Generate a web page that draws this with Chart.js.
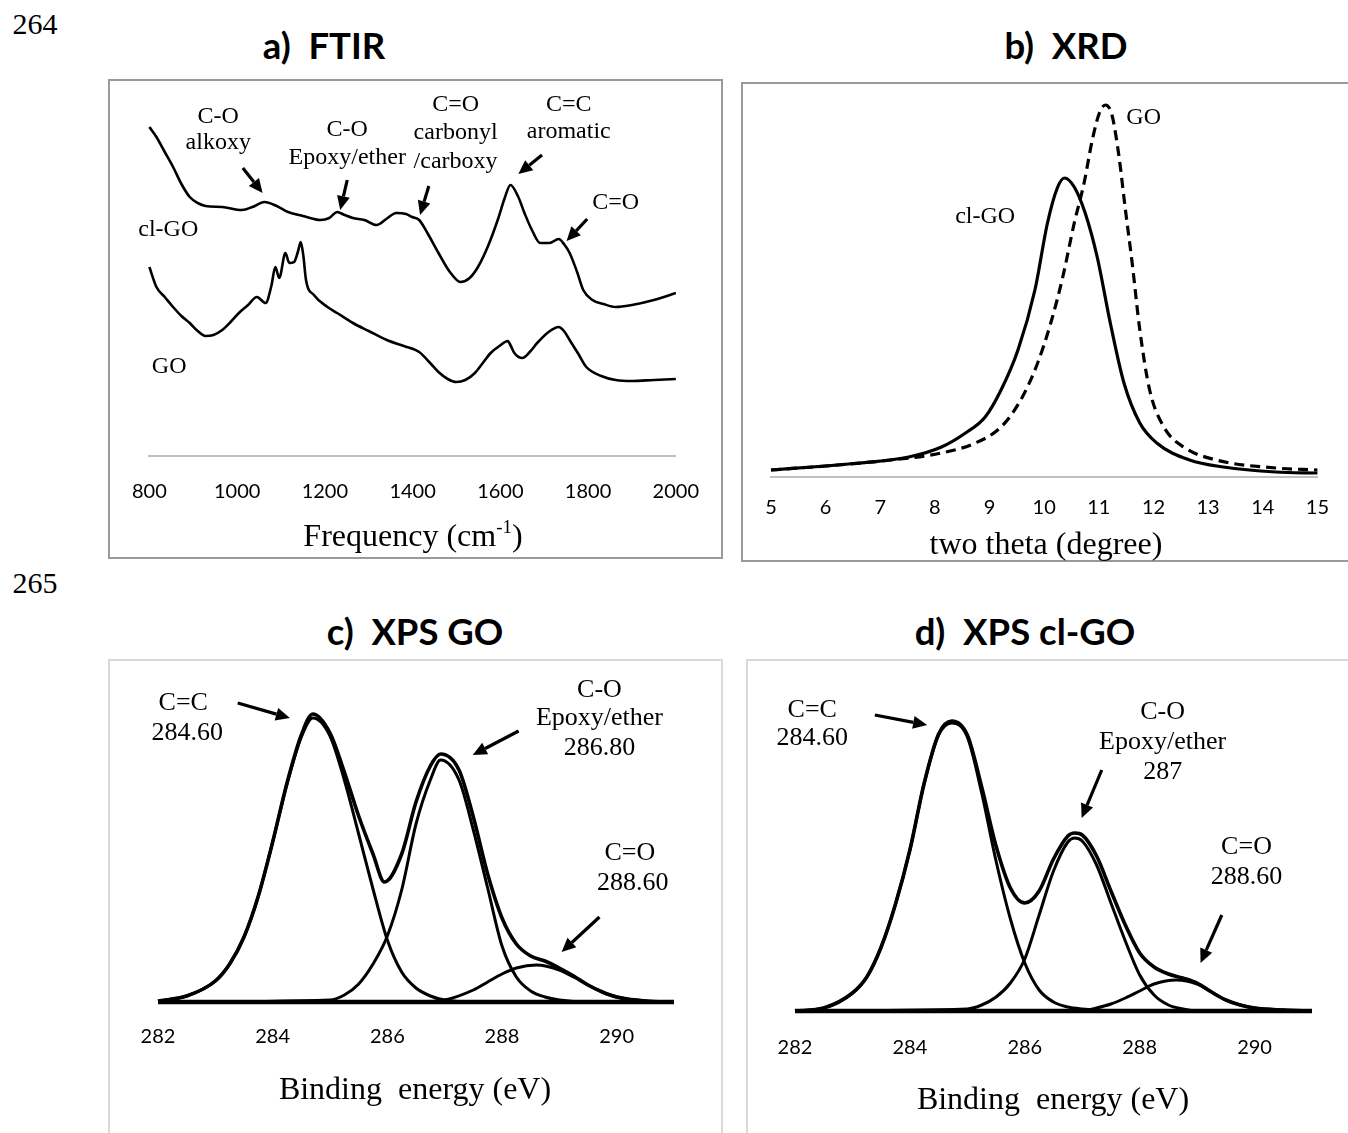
<!DOCTYPE html>
<html>
<head>
<meta charset="utf-8">
<title>FTIR, XRD, XPS</title>
<script src="https://cdn.jsdelivr.net/npm/chart.js@4.4.1/dist/chart.umd.min.js"></script>
<style>
	body { margin: 0; background: #fff; }
	#page { position: relative; width: 1348px; height: 1133px; overflow: hidden; background: #fff; }
	.box { position: absolute; box-sizing: border-box; }
	.box.dark { border: 2px solid #9a9a9a; }
	.box.light { border: 2px solid #d9d9d9; }
	canvas { position: absolute; }
	.t { position: absolute; transform: translate(-50%, -50%); white-space: nowrap; color: #000; line-height: 1; }
	.num { font: 30px "Liberation Serif", serif; }
	.head { font: bold 36.5px Lato, sans-serif; }
	.axt { font: 32px "Liberation Serif", serif; }
	.axt sup { font-size: 19px; vertical-align: 13px; }
</style>
</head>
<body>
<div id="page">
	<div class="t num" style="left:35px; top:24px">264</div>
	<div class="t num" style="left:35px; top:583px">265</div>

	<div class="t head" style="left:324px; top:45px">a)&nbsp; FTIR</div>
	<div class="t head" style="left:1066px; top:45px">b)&nbsp; XRD</div>
	<div class="t head" style="left:415px; top:631px">c)&nbsp; XPS GO</div>
	<div class="t head" style="left:1025px; top:631px">d)&nbsp; XPS cl-GO</div>

	<div class="box dark" style="left:108px; top:79px; width:615px; height:480px"></div>
	<div class="box dark" style="left:741px; top:82px; width:640px; height:480px"></div>
	<div class="box light" style="left:108px; top:659px; width:615px; height:520px"></div>
	<div class="box light" style="left:746px; top:659px; width:640px; height:520px"></div>

	<canvas id="cvFtir" width="615" height="480" style="left:108px; top:79px"></canvas>
	<canvas id="cvXrd" width="607" height="480" style="left:741px; top:82px"></canvas>
	<canvas id="cvXpsGo" width="615" height="474" style="left:108px; top:659px"></canvas>
	<canvas id="cvXpsClGo" width="602" height="474" style="left:746px; top:659px"></canvas>

	<div class="t axt" style="left:413px; top:535px">Frequency (cm<sup>-1</sup>)</div>
	<div class="t axt" style="left:1046px; top:543px">two theta (degree)</div>
	<div class="t axt" style="left:415px; top:1088px">Binding&nbsp; energy (eV)</div>
	<div class="t axt" style="left:1053px; top:1098px">Binding&nbsp; energy (eV)</div>
</div>

<script>
// a) FTIR, frequency in cm-1, transmittance in arbitrary units
const ftirFreqClGO = [800, 816, 835, 854, 873, 892, 910, 928, 966, 1011, 1035, 1062, 1090, 1116, 1150, 1190, 1210, 1228, 1245, 1264, 1290, 1318, 1340, 1363, 1385, 1399, 1415, 1435, 1459, 1485, 1509, 1530, 1549, 1572, 1594, 1610, 1623, 1640, 1655, 1672, 1691, 1712, 1733, 1745, 1758, 1775, 1789, 1810, 1835, 1863, 1900, 1950, 2000];
const ftirClGO = [3.29, 3.19, 3.04, 2.89, 2.72, 2.59, 2.53, 2.50, 2.49, 2.46, 2.49, 2.54, 2.50, 2.44, 2.40, 2.36, 2.38, 2.44, 2.41, 2.38, 2.36, 2.31, 2.37, 2.43, 2.42, 2.39, 2.36, 2.22, 2.03, 1.84, 1.74, 1.78, 1.89, 2.10, 2.36, 2.58, 2.71, 2.60, 2.43, 2.26, 2.13, 2.13, 2.17, 2.12, 2.03, 1.84, 1.66, 1.56, 1.52, 1.49, 1.51, 1.56, 1.63];
const ftirFreqGO = [800, 816, 835, 854, 873, 892, 910, 928, 946, 966, 985, 1004, 1025, 1045, 1065, 1078, 1087, 1096, 1110, 1119, 1130, 1139, 1145, 1151, 1157, 1175, 1206, 1228, 1264, 1300, 1341, 1380, 1415, 1440, 1459, 1480, 1500, 1520, 1542, 1560, 1578, 1598, 1617, 1624, 1632, 1650, 1667, 1684, 1710, 1733, 1745, 1758, 1778, 1796, 1830, 1863, 1900, 1950, 2000];
const ftirGO = [1.89, 1.69, 1.59, 1.49, 1.40, 1.33, 1.25, 1.20, 1.21, 1.26, 1.34, 1.43, 1.51, 1.59, 1.53, 1.70, 1.89, 1.78, 2.03, 1.93, 1.94, 2.05, 2.14, 2.00, 1.76, 1.61, 1.49, 1.43, 1.33, 1.25, 1.16, 1.10, 1.04, 0.93, 0.84, 0.77, 0.74, 0.76, 0.83, 0.93, 1.03, 1.10, 1.15, 1.10, 1.03, 0.98, 1.04, 1.13, 1.24, 1.29, 1.25, 1.16, 1.02, 0.89, 0.80, 0.76, 0.75, 0.76, 0.77];

// b) XRD, two theta in degrees, intensity in counts
const xrdThetaClGO = [5, 6, 6.62, 7.52, 8.12, 8.56, 8.92, 9.21, 9.52, 9.83, 10.06, 10.24, 10.37, 10.55, 10.75, 10.97, 11.21, 11.46, 11.75, 12.06, 12.66, 13.28, 14.24, 15];
const xrdClGO = [70, 110, 140, 200, 300, 440, 600, 870, 1270, 1870, 2540, 2890, 2990, 2900, 2640, 2200, 1540, 940, 540, 340, 170, 100, 50, 40];
const xrdThetaGO = [5, 6, 7.2, 8.12, 8.74, 9.21, 9.57, 9.88, 10.12, 10.34, 10.55, 10.73, 10.88, 11.01, 11.12, 11.24, 11.37, 11.48, 11.61, 11.75, 11.93, 12.19, 12.55, 13.15, 14.24, 15];
const xrdGO = [70, 110, 170, 240, 340, 500, 770, 1140, 1540, 2000, 2540, 2940, 3370, 3640, 3720, 3620, 3200, 2700, 2140, 1470, 870, 500, 300, 170, 90, 70];

// c) XPS GO, binding energy in eV, intensity in arbitrary units
const goEnergyCC = [282, 282.5, 283, 283.25, 283.5, 283.75, 284, 284.25, 284.5, 284.7, 285, 285.25, 285.5, 285.75, 286, 286.25, 286.5, 286.75, 287, 287.5, 291];
const goCC = [1, 6, 21, 38, 65, 106, 160, 218, 265, 284, 266, 222, 168, 113, 62, 30, 14, 6, 2, 0, 0];
const goEnergyCO = [282, 285, 285.25, 285.5, 285.75, 286, 286.25, 286.5, 286.75, 286.93, 287.25, 287.5, 287.75, 288, 288.25, 288.5, 288.75, 289, 289.5, 291];
const goCO = [0, 2, 7, 18, 38, 66, 112, 178, 222, 242, 222, 172, 114, 56, 25, 11, 5, 2, 0, 0];
const goEnergyCdO = [282, 286.5, 287, 287.5, 287.75, 288, 288.25, 288.6, 289, 289.25, 289.5, 289.75, 290, 290.5, 291];
const goCdO = [0, 0, 2, 12, 20, 28, 34, 37, 32, 25, 17, 10, 5, 1, 0];
const goEnergyEnv = [282, 282.5, 283, 283.25, 283.5, 283.75, 284, 284.25, 284.5, 284.7, 285, 285.25, 285.5, 285.75, 285.95, 286.25, 286.5, 286.75, 286.93, 287.25, 287.5, 287.75, 288, 288.25, 288.5, 288.75, 289, 289.25, 289.5, 289.75, 290, 290.5, 291];
const goEnv = [1, 6, 21, 38, 65, 106, 160, 219, 267, 288, 269, 230, 186, 148, 120, 148, 200, 236, 248, 232, 185, 128, 84, 58, 46, 41, 34, 26, 17, 10, 5, 1, 0];

// d) XPS cl-GO
const clEnergyCC = [282, 282.5, 283, 283.25, 283.5, 283.75, 284, 284.25, 284.5, 284.73, 285, 285.25, 285.5, 285.75, 286, 286.25, 286.5, 286.75, 287, 287.5, 291];
const clCC = [0, 3, 18, 34, 64, 107, 161, 228, 276, 288, 274, 218, 150, 92, 48, 21, 9, 4, 2, 0, 0];
const clEnergyCO = [282, 285, 285.25, 285.5, 285.75, 286, 286.25, 286.5, 286.75, 286.87, 287, 287.25, 287.5, 287.75, 288, 288.25, 288.5, 288.75, 289, 291];
const clCO = [0, 2, 6, 14, 28, 52, 96, 140, 169, 173, 170, 146, 108, 70, 36, 16, 6, 2, 0, 0];
const clEnergyCdO = [282, 287, 287.25, 287.5, 287.75, 288, 288.25, 288.64, 289, 289.25, 289.5, 289.75, 290, 290.5, 291];
const clCdO = [0, 0, 3, 7, 13, 20, 27, 31, 27, 19, 11, 6, 3, 1, 0];
const clEnergyEnv = [282, 282.5, 283, 283.25, 283.5, 283.75, 284, 284.25, 284.5, 284.73, 285, 285.25, 285.5, 285.75, 286, 286.25, 286.5, 286.75, 286.87, 287, 287.25, 287.5, 287.75, 288, 288.25, 288.5, 288.75, 289, 289.25, 289.5, 289.75, 290, 290.5, 291];
const clEnv = [0, 3, 18, 34, 64, 107, 161, 228, 277, 290, 276, 224, 165, 123, 108, 120, 152, 175, 178, 176, 155, 120, 86, 58, 44, 37, 33, 28, 19, 11, 6, 3, 1, 0];

const xpsBaseEnergy = [282, 291];
const xpsBase = [0, 0];

// annotations: [text, x, y] and arrows [x1, y1, x2, y2] in data units
const ftirLabels = [
	['C-O', 957, 3.39], ['alkoxy', 957, 3.13],
	['C-O', 1251, 3.26], ['Epoxy/ether', 1251, 2.98],
	['C=O', 1498, 3.51], ['carbonyl', 1498, 3.23], ['/carboxy', 1498, 2.94],
	['C=C', 1756, 3.51], ['aromatic', 1756, 3.24],
	['C=O', 1863, 2.53],
	['cl-GO', 843, 2.26], ['GO', 845, 0.89]
];
const ftirArrows = [
	[1013, 2.88, 1058, 2.63],
	[1251, 2.76, 1235, 2.46],
	[1437, 2.70, 1417, 2.41],
	[1695, 3.01, 1641, 2.82],
	[1798, 2.37, 1751, 2.15]
];
const xrdLabels = [['GO', 11.82, 3590], ['cl-GO', 8.92, 2600]];
const goLabels = [
	['C=C', 282.44, 299], ['284.60', 282.51, 269],
	['C-O', 289.70, 312], ['Epoxy/ether', 289.70, 284], ['286.80', 289.70, 254],
	['C=O', 290.23, 149], ['288.60', 290.28, 119]
];
const goArrows = [
	[283.39, 299, 284.30, 284],
	[288.29, 271, 287.49, 247],
	[289.70, 85, 289.04, 50]
];
const clLabels = [
	['C=C', 282.30, 301], ['284.60', 282.30, 273],
	['C-O', 288.40, 299], ['Epoxy/ether', 288.40, 269], ['287', 288.40, 239],
	['C=O', 289.86, 164], ['288.60', 289.86, 134]
];
const clArrows = [
	[283.39, 296, 284.30, 286],
	[287.34, 241, 286.99, 193],
	[289.43, 96, 289.06, 48]
];

document.addEventListener('DOMContentLoaded', () => {

	const pts = (xs, ys) => xs.map((x, i) => ({ x: x, y: ys[i] }));

	// text labels and arrows drawn over the curves
	function notes(font, labels, arrows) {
		return {
			id: 'notes',
			afterDatasetsDraw(chart) {
				const ctx = chart.ctx;
				const sx = chart.scales.x;
				const sy = chart.scales.y;
				ctx.save();
				ctx.fillStyle = '#000';
				ctx.strokeStyle = '#000';
				ctx.font = font;
				ctx.textAlign = 'center';
				ctx.textBaseline = 'middle';
				labels.forEach(l => {
					ctx.fillText(l[0], sx.getPixelForValue(l[1]), sy.getPixelForValue(l[2]));
				});
				arrows.forEach(a => {
					const x1 = sx.getPixelForValue(a[0]), y1 = sy.getPixelForValue(a[1]);
					const x2 = sx.getPixelForValue(a[2]), y2 = sy.getPixelForValue(a[3]);
					const ang = Math.atan2(y2 - y1, x2 - x1);
					const head = 14, half = 6.5;
					const bx = x2 - head * Math.cos(ang), by = y2 - head * Math.sin(ang);
					ctx.lineWidth = 3.2;
					ctx.beginPath();
					ctx.moveTo(x1, y1);
					ctx.lineTo(bx, by);
					ctx.stroke();
					ctx.beginPath();
					ctx.moveTo(x2, y2);
					ctx.lineTo(bx + half * Math.sin(ang), by - half * Math.cos(ang));
					ctx.lineTo(bx - half * Math.sin(ang), by + half * Math.cos(ang));
					ctx.closePath();
					ctx.fill();
				});
				ctx.restore();
			}
		};
	}

	function line(data, width, dash) {
		return {
			data: data,
			borderColor: '#000',
			borderWidth: width,
			borderDash: dash || [],
			pointRadius: 0,
			fill: false,
			cubicInterpolationMode: 'monotone',
			clip: false
		};
	}

	function xAxis(min, max, step, height, pad, showLine) {
		return {
			type: 'linear',
			min: min,
			max: max,
			afterFit: (s) => { s.height = height; },
			grid: { display: false, drawTicks: false },
			border: { display: showLine, color: '#c0c0c0', width: 2 },
			ticks: {
				stepSize: step,
				includeBounds: false,
				autoSkip: false,
				maxRotation: 0,
				padding: pad,
				color: '#000',
				font: { family: 'Lato', size: 20 },
				callback: (v) => String(v)
			}
		};
	}

	function baseOptions(padding, x, yMin, yMax) {
		return {
			responsive: false,
			animation: false,
			events: [],
			layout: { padding: padding },
			plugins: { legend: { display: false }, tooltip: { enabled: false } },
			scales: { x: x, y: { display: false, min: yMin, max: yMax } }
		};
	}

	//** (Start) a) FTIR **//
	new Chart(document.getElementById('cvFtir'), {
		type: 'line',
		data: {
			datasets: [
				line(pts(ftirFreqClGO, ftirClGO), 2.6),
				line(pts(ftirFreqGO, ftirGO), 2.6)
			]
		},
		options: baseOptions({ left: 38, right: 42, top: 17, bottom: 0 }, xAxis(800, 2000, 200, 103, 24, true), 0, 3.6),
		plugins: [notes('24px "Liberation Serif", serif', ftirLabels, ftirArrows)]
	});
	//** (End) a) FTIR **//

	//** (Start) b) XRD **//
	new Chart(document.getElementById('cvXrd'), {
		type: 'line',
		data: {
			datasets: [
				line(pts(xrdThetaGO, xrdGO), 3.2, [10, 6]),
				line(pts(xrdThetaClGO, xrdClGO), 3.2)
			]
		},
		options: baseOptions({ left: 30, right: 26, top: 15, bottom: 0 }, xAxis(5, 15, 1, 85, 19, true), 0, 3800),
		plugins: [notes('24px "Liberation Serif", serif', xrdLabels, [])]
	});
	//** (End) b) XRD **//

	//** (Start) c) XPS GO **//
	new Chart(document.getElementById('cvXpsGo'), {
		type: 'line',
		data: {
			datasets: [
				line(pts(xpsBaseEnergy, xpsBase), 4.5),
				line(pts(goEnergyCC, goCC), 3),
				line(pts(goEnergyCO, goCO), 3),
				line(pts(goEnergyCdO, goCdO), 3),
				line(pts(goEnergyEnv, goEnv), 3.6)
			]
		},
		options: baseOptions({ left: 50, right: 49, top: 23, bottom: 0 }, xAxis(282, 291, 2, 131, 23, false), 0, 320),
		plugins: [notes('26px "Liberation Serif", serif', goLabels, goArrows)]
	});
	//** (End) c) XPS GO **//

	//** (Start) d) XPS cl-GO **//
	new Chart(document.getElementById('cvXpsClGo'), {
		type: 'line',
		data: {
			datasets: [
				line(pts(xpsBaseEnergy, xpsBase), 4.5),
				line(pts(clEnergyCC, clCC), 3),
				line(pts(clEnergyCO, clCO), 3),
				line(pts(clEnergyCdO, clCdO), 3),
				line(pts(clEnergyEnv, clEnv), 3.6)
			]
		},
		options: baseOptions({ left: 49, right: 36, top: 32, bottom: 0 }, xAxis(282, 291, 2, 122, 25, false), 0, 320),
		plugins: [notes('26px "Liberation Serif", serif', clLabels, clArrows)]
	});
	//** (End) d) XPS cl-GO **//

})
</script>
</body>
</html>
